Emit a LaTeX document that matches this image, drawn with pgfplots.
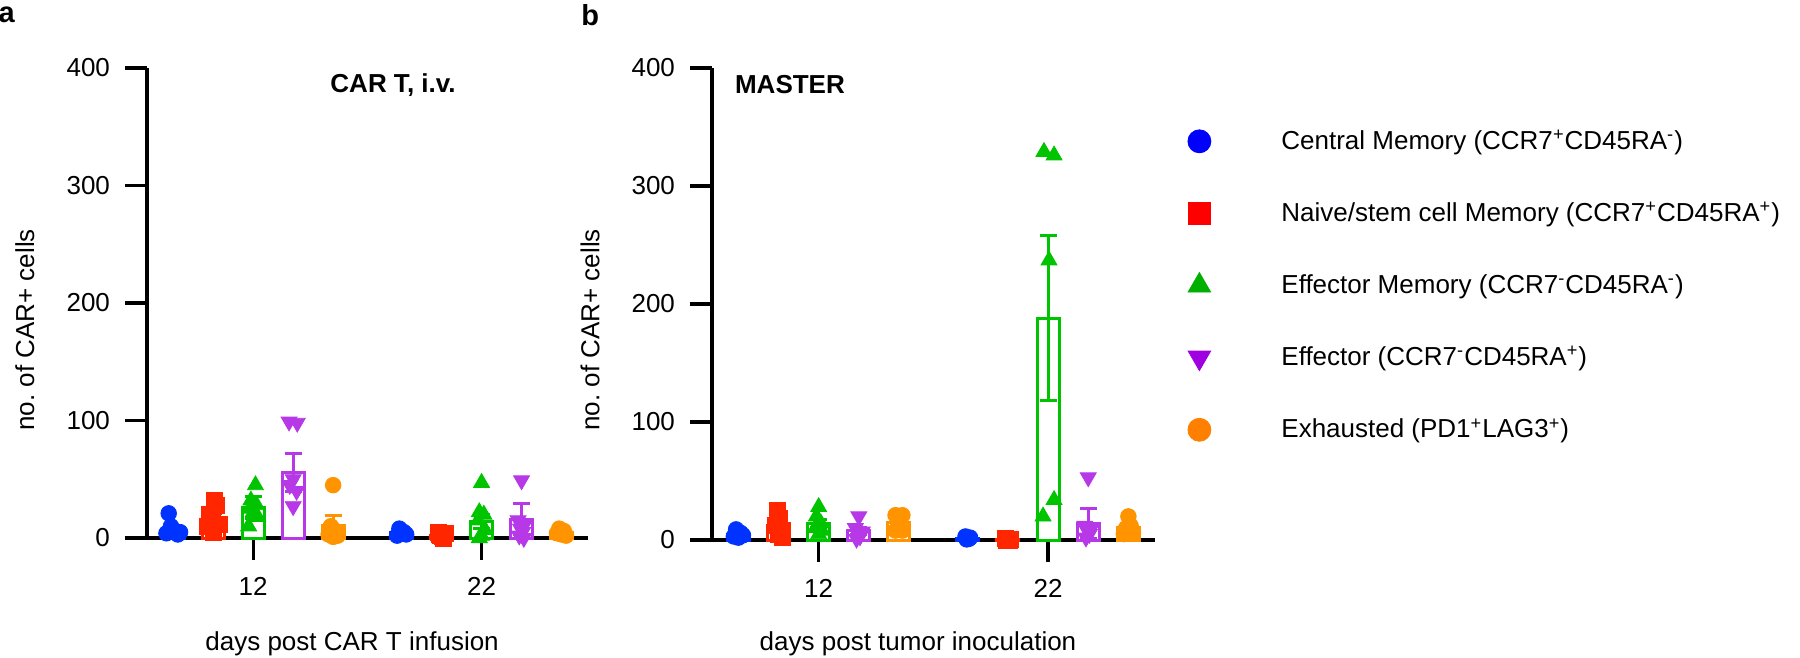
\documentclass[border=0pt]{standalone}
\usepackage{fontspec}
\setmainfont{Liberation Sans}
\usepackage{pgfplots}
\pgfplotsset{compat=1.18}
\definecolor{blueD}{RGB}{0,51,255}
\definecolor{redD}{RGB}{255,38,0}
\definecolor{greenD}{RGB}{0,196,0}
\definecolor{purpleD}{RGB}{182,56,230}
\definecolor{orangeD}{RGB}{255,147,0}
\definecolor{blueL}{RGB}{0,0,255}
\definecolor{redL}{RGB}{255,0,0}
\definecolor{greenL}{RGB}{0,175,0}
\definecolor{purpleL}{RGB}{160,0,225}
\definecolor{orangeL}{RGB}{255,128,0}
\newcommand{\fsz}{\fontsize{13}{15.6}\selectfont}
\pgfplotsset{
  panel/.style={
    scale only axis, axis lines=left, axis line style={line width=1.6pt,-},
    xmin=-0.465, xmax=1.466, ymin=0, ymax=400,
    xtick={0,1}, xticklabels={12,22}, ytick={0,100,200,300,400},
    tick align=outside, major tick length=11pt, tick style={line width=1.6pt, black},
    font=\fsz, ticklabel style={font=\fsz}, /pgf/number format/assume math mode=true,
    xticklabel style={yshift=-5pt}, yticklabel style={xshift=-4pt},
    clip=false, label style={font=\fsz},
  },
  mybar/.style={ybar, bar shift=0pt, bar width=11pt, color=#1, fill=white, line width=1.5pt, forget plot,
    error bars/.cd, y dir=both, y explicit, error bar style={line width=1.5pt, color=#1},
    error mark options={rotate=90, line width=1.5pt, mark size=4.25pt, color=#1}},
  ptsC/.style={only marks, mark=*, color=#1, mark size=3.9pt, forget plot},
  ptsS/.style={only marks, mark=square*, color=#1, mark size=4pt, forget plot},
  ptsT/.style={only marks, mark=triangle*, color=#1, mark size=4.6pt, forget plot},
  ptsV/.style={only marks, mark=triangle*, mark options={rotate=180}, color=#1, mark size=4.6pt, forget plot},
}
\begin{document}
\begin{tikzpicture}
\useasboundingbox (0,0) rectangle (900pt,-329pt);
% ---------------- panel a ----------------
\begin{axis}[panel, at={(73.5pt,-269pt)}, anchor=south west, width=220.5pt, height=235pt,
  title={CAR T, i.v.}, title style={at={(axis description cs:0.558,0.938)}, anchor=center, font=\fsz\bfseries},
  ylabel={no.\ of CAR+ cells}, ylabel style={at={(axis description cs:-0.277,0.443)}, anchor=center},
  xlabel={days post CAR T infusion}, xlabel style={at={(axis description cs:0.465,-0.2255)}, anchor=center}]
\addplot[mybar=blueD] coordinates {(-0.35,8) +- (0,3) (0.65,4.4) +- (0,1)};
\addplot[mybar=redD] coordinates {(-0.175,17) +- (0,4) (0.825,2.5) +- (0,1)};
\addplot[mybar=greenD] coordinates {(0,26) +- (0,9) (1,14) +- (0,6)};
\addplot[mybar=purpleD] coordinates {(0.175,56) +- (0,16) (1.175,16) +- (0,13)};
\addplot[mybar=orangeD] coordinates {(0.35,11) +- (0,8) (1.35,5) +- (0,1)};
\addplot[ptsC=blueD] coordinates {(-0.37,21) (-0.36,10) (-0.38,4) (-0.33,3) (-0.32,5) (-0.35,7)
  (0.64,8) (0.66,5) (0.67,3) (0.63,2) (0.65,4)};
\addplot[ptsS=redD] coordinates {(-0.17,32) (-0.16,28) (-0.19,20) (-0.18,15) (-0.15,12) (-0.20,10) (-0.175,5)
  (0.81,5) (0.84,4) (0.82,2) (0.83,1) (0.815,3) (0.835,0)};
\addplot[ptsT=greenD] coordinates {(0.01,45) (-0.01,32) (0.015,28) (-0.015,25) (0.0,22) (0.02,18) (-0.02,10)
  (1.0,47) (0.99,22) (1.01,20) (0.985,15) (1.015,7) (1.0,2) (0.99,0)};
\addplot[ptsV=purpleD] coordinates {(0.157,99) (0.193,98) (0.175,50) (0.16,45) (0.19,40) (0.175,27)
  (1.175,49) (1.16,15) (1.19,12) (1.17,8) (1.18,5) (1.165,2) (1.185,0)};
\addplot[ptsC=orangeD] coordinates {(0.35,45) (0.34,10) (0.36,6) (0.33,3) (0.37,2) (0.35,1)
  (1.34,8) (1.36,6) (1.35,3) (1.37,2) (1.33,4)};
\node[font=\fontsize{14.5}{17}\selectfont\bfseries] at (axis description cs:-0.318,1.113) {a};
\end{axis}
% ---------------- panel b ----------------
\begin{axis}[panel, at={(356pt,-270pt)}, anchor=south west, width=221.5pt, height=236pt,
  title={MASTER}, title style={at={(axis description cs:0.176,0.939)}, anchor=center, font=\fsz\bfseries},
  ylabel={no.\ of CAR+ cells}, ylabel style={at={(axis description cs:-0.275,0.445)}, anchor=center},
  xlabel={days post tumor inoculation}, xlabel style={at={(axis description cs:0.465,-0.220)}, anchor=center},
  legend style={at={(axis description cs:1.0587,0.886)}, anchor=north west, draw=none, fill=none,
    row sep=21pt, font=\fsz, inner xsep=3pt, inner ysep=2pt},
  legend cell align=left,
  legend image code/.code={\draw[#1] plot coordinates {(0pt,0pt)}; \path[draw=none,fill=none] (-6pt,-6pt) rectangle (39pt,6pt);}]
\addplot[mybar=blueD] coordinates {(-0.35,5) +- (0,1.3) (0.65,1.5) +- (0,0.5)};
\addplot[mybar=redD] coordinates {(-0.175,12) +- (0,3.5) (0.825,0.4) +- (0,0.2)};
\addplot[mybar=greenD] coordinates {(0,14) +- (0,3.5) (1,188) +- (0,70)};
\addplot[mybar=purpleD] coordinates {(0.175,8) +- (0,3) (1.175,14) +- (0,13)};
\addplot[mybar=orangeD] coordinates {(0.35,14.5) +- (0,4) (1.35,11) +- (0,3)};
\addplot[ptsC=blueD] coordinates {(-0.36,9) (-0.34,6) (-0.33,4) (-0.37,3) (-0.35,2)
  (0.64,3) (0.66,2) (0.655,1) (0.645,0.5)};
\addplot[ptsS=redD] coordinates {(-0.18,25) (-0.17,18) (-0.19,12) (-0.16,8) (-0.175,5) (-0.16,2)
  (0.815,1) (0.835,0.5) (0.82,0) (0.83,0)};
\addplot[ptsT=greenD] coordinates {(0.0,28) (-0.01,20) (0.01,14) (-0.015,10) (0.015,8) (0.0,5)
  (0.982,329) (1.026,326) (1.004,237) (1.026,34) (0.978,20)};
\addplot[ptsV=purpleD] coordinates {(0.175,20) (0.16,10) (0.19,7) (0.17,5) (0.18,3) (0.165,1)
  (1.175,53) (1.16,12) (1.19,10) (1.17,8) (1.18,5) (1.165,2)};
\addplot[ptsC=orangeD] coordinates {(0.335,21) (0.365,21) (0.335,8) (0.365,8)
  (1.35,20) (1.36,12) (1.34,10) (1.33,5) (1.37,6)};
\node[font=\fontsize{14.5}{17}\selectfont\bfseries] at (axis description cs:-0.275,1.112) {b};
\addlegendimage{color=blueL, mark=*, mark size=5.75pt}
\addlegendentry{Central Memory (CCR7\textsuperscript{+}CD45RA\textsuperscript{-})}
\addlegendimage{color=redL, mark=square*, mark size=5.5pt}
\addlegendentry{Naive/stem cell Memory (CCR7\textsuperscript{+}CD45RA\textsuperscript{+})}
\addlegendimage{color=greenL, mark=triangle*, mark size=6.5pt}
\addlegendentry{Effector Memory (CCR7\textsuperscript{-}CD45RA\textsuperscript{-})}
\addlegendimage{color=purpleL, mark=triangle*, mark options={rotate=180}, mark size=6.5pt}
\addlegendentry{Effector (CCR7\textsuperscript{-}CD45RA\textsuperscript{+})}
\addlegendimage{color=orangeL, mark=*, mark size=5.75pt}
\addlegendentry{Exhausted (PD1\textsuperscript{+}LAG3\textsuperscript{+})}
\end{axis}
\end{tikzpicture}
\end{document}
